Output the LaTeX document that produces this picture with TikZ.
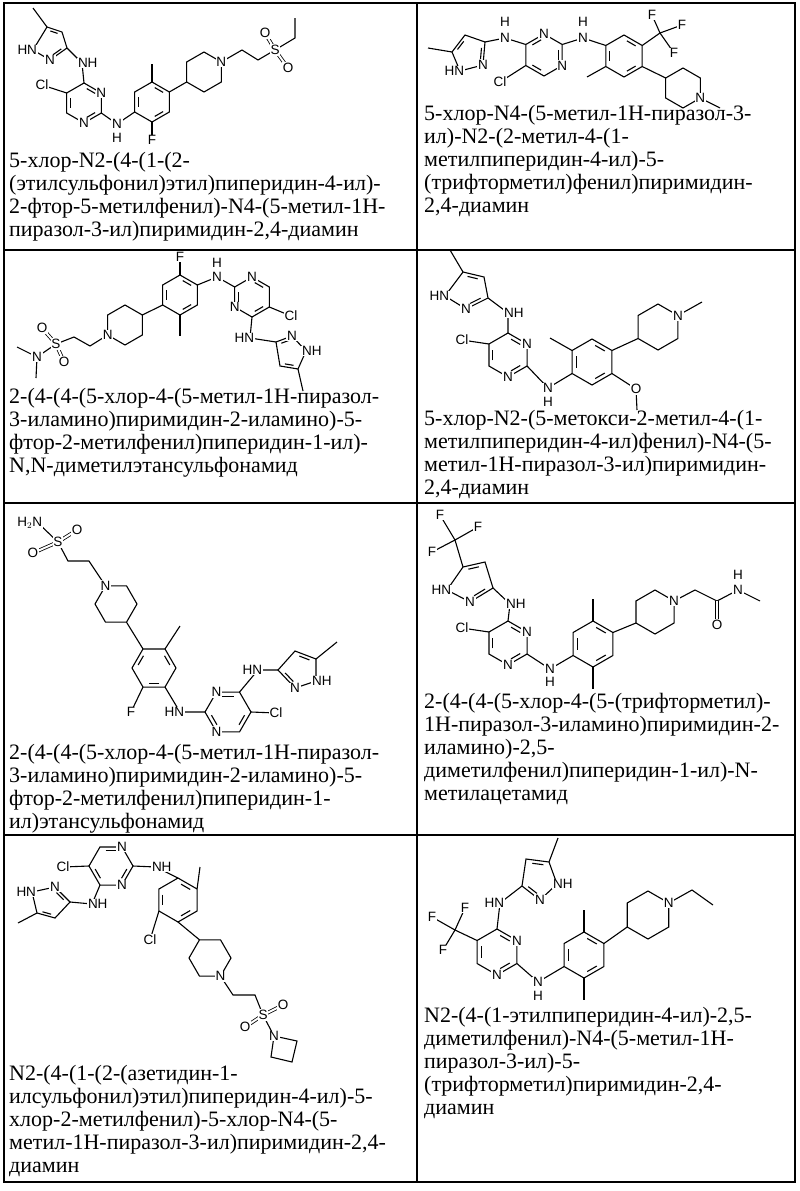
\documentclass[tikz,border=0pt]{standalone}
\usepackage{fontspec}
\setmainfont{Liberation Serif}
\newfontfamily\atomfont{Liberation Sans}
\usetikzlibrary{calc}

\tikzset{
  bond/.style={line width=1.1pt},
  dbl/.style={double,double distance=2pt,line width=0.8pt},
  atom/.style={font=\atomfont\fontsize{13.5}{13.5}\selectfont,fill=white,inner sep=0.8pt},
  nh/.style={atom,anchor=west,xshift=-5pt},
  hn/.style={atom,anchor=east,xshift=5pt},
  caption/.style={font=\fontsize{22}{23}\selectfont,align=left,anchor=north west,inner sep=0pt},
  grid line/.style={line width=1.2pt}
}
% ring of six: name, cx, cy, radius, start angle
\newcommand\hexring[5]{%
  \foreach \k in {1,...,6}{\coordinate (#1\k) at ($(#2,#3)+({#5+60*(\k-1)}:#4)$);}
  \coordinate (#1c) at (#2,#3);
  \draw[bond] (#11)--(#12)--(#13)--(#14)--(#15)--(#16)--cycle;}
% inner line of a double bond, pulled toward the ring centre
\newcommand\inner[3]{\draw[bond] ($(#1)!.2!(#2)!.2!(#3)$) -- ($(#2)!.2!(#1)!.2!(#3)$);}

\begin{document}
\begin{tikzpicture}[x=1pt,y=-1pt]
\useasboundingbox (0,0) rectangle (800,1191);

% table
\draw[grid line] (4,3) rectangle (795,1182);
\draw[grid line] (417,3) -- (417,1182);
\foreach \y in {250,503,835} \draw[grid line] (4,\y) -- (795,\y);

%%% cell 1
\coordinate (a1me) at (33,8);
\coordinate (a1c5) at (47,27); \coordinate (a1c4) at (62,32); \coordinate (a1c3) at (67,48);
\coordinate (a1n2) at (50,60); \coordinate (a1n1) at (33,50); \coordinate (a1z) at (52,43);
\draw[bond] (a1c5)--(a1c4)--(a1c3)--(a1n2)--(a1n1)--cycle; \draw[bond] (a1me)--(a1c5);
\inner{a1c5}{a1c4}{a1z} \inner{a1c3}{a1n2}{a1z}
\hexring{a1p}{84}{103}{20}{-90}
\inner{a1p1}{a1p2}{a1pc} \inner{a1p3}{a1p4}{a1pc} \inner{a1p5}{a1p6}{a1pc}
\coordinate (a1nh) at (82,63); \draw[bond] (a1c3)--(a1nh)--(a1p1);
\coordinate (a1cl) at (42,85); \draw[bond] (a1p6)--(a1cl);
\hexring{a1b}{152}{102}{20}{-90}
\inner{a1b5}{a1b6}{a1bc} \inner{a1b1}{a1b2}{a1bc} \inner{a1b3}{a1b4}{a1bc}
\coordinate (a1n) at (117,124); \draw[bond] (a1p3)--(a1n)--(a1b5);
\coordinate (a1f) at (152,140); \draw[bond] (a1b4)--(a1f);
\coordinate (a1me2) at (152,64); \draw[bond] (a1b1)--(a1me2);
\hexring{a1q}{204}{72}{20}{-90}
\draw[bond] (a1b2)--(a1q5);
\coordinate (a1ch1) at (242,50); \coordinate (a1ch2) at (258,60); \coordinate (a1s) at (275,50);
\coordinate (a1o1) at (265,33); \coordinate (a1o2) at (288,68);
\coordinate (a1et1) at (295,38); \coordinate (a1et2) at (295,18);
\draw[bond] (a1q2)--(a1ch1)--(a1ch2)--(a1s)--(a1et1)--(a1et2);
\draw[dbl] (a1s)--(a1o1); \draw[dbl] (a1s)--(a1o2);
\node[hn] (a1l1) at (a1n1) {HN}; \node[atom] (a1l2) at (a1n2) {N};
\node[nh] (a1l3) at (a1nh) {NH}; \node[atom] (a1l4) at (a1p2) {N}; \node[atom] (a1l5) at (a1p4) {N};
\node[atom] (a1l6) at (a1cl) {Cl}; \node[atom] (a1l7) at (a1n) {N}; \node[atom] (a1l8) at (117,138) {H};
\node[atom] (a1l9) at (a1f) {F}; \node[atom] (a1l10) at (a1q2) {N}; \node[atom] (a1l11) at (a1s) {S};
\node[atom] (a1l12) at (a1o1) {O}; \node[atom] (a1l13) at (a1o2) {O};
\node[caption] (a1txt) at (9,152) {5-хлор-N2-(4-(1-(2-\\(этилсульфонил)этил)пиперидин-4-ил)-\\2-фтор-5-метилфенил)-N4-(5-метил-1H-\\пиразол-3-ил)пиримидин-2,4-диамин};

%%% cell 2
\coordinate (b2me) at (428,48);
\coordinate (b2c5) at (452,52); \coordinate (b2c4) at (465,35); \coordinate (b2c3) at (485,42);
\coordinate (b2n2) at (483,65); \coordinate (b2n1) at (460,71); \coordinate (b2z) at (469,53);
\draw[bond] (b2c5)--(b2c4)--(b2c3)--(b2n2)--(b2n1)--cycle; \draw[bond] (b2me)--(b2c5);
\inner{b2c5}{b2c4}{b2z} \inner{b2c3}{b2n2}{b2z}
\hexring{b2p}{544}{55}{21}{-90}
\inner{b2p6}{b2p1}{b2pc} \inner{b2p2}{b2p3}{b2pc} \inner{b2p5}{b2p4}{b2pc}
\coordinate (b2nh) at (505,38); \draw[bond] (b2c3)--(b2nh)--(b2p6);
\coordinate (b2cl) at (500,82); \draw[bond] (b2p5)--(b2cl);
\hexring{b2b}{624}{56}{21}{-90}
\inner{b2b6}{b2b5}{b2bc} \inner{b2b1}{b2b2}{b2bc} \inner{b2b3}{b2b4}{b2bc}
\coordinate (b2n) at (583,38); \draw[bond] (b2p2)--(b2n)--(b2b6);
\coordinate (b2me2) at (587,77); \draw[bond] (b2b5)--(b2me2);
\coordinate (b2cf) at (660,33); \draw[bond] (b2b2)--(b2cf);
\coordinate (b2f1) at (652,15); \coordinate (b2f2) at (682,25); \coordinate (b2f3) at (674,53);
\draw[bond] (b2cf)--(b2f1); \draw[bond] (b2cf)--(b2f2); \draw[bond] (b2cf)--(b2f3);
\hexring{b2q}{683}{88}{20}{-90}
\draw[bond] (b2b3)--(b2q6);
\coordinate (b2me3) at (720,108); \draw[bond] (b2q3)--(b2me3);
\node[hn] (b2l1) at (b2n1) {HN}; \node[atom] (b2l2) at (b2n2) {N};
\node[atom] (b2l3) at (b2nh) {N}; \node[atom] (b2l4) at (505,22) {H};
\node[atom] (b2l5) at (b2p1) {N}; \node[atom] (b2l6) at (b2p3) {N}; \node[atom] (b2l7) at (b2cl) {Cl};
\node[atom] (b2l8) at (b2n) {N}; \node[atom] (b2l9) at (583,22) {H};
\node[atom] (b2l10) at (b2f1) {F}; \node[atom] (b2l11) at (b2f2) {F}; \node[atom] (b2l12) at (b2f3) {F};
\node[atom] (b2l13) at (b2q3) {N};
\node[caption] (b2txt) at (424,105) {5-хлор-N4-(5-метил-1H-пиразол-3-\\ил)-N2-(2-метил-4-(1-\\метилпиперидин-4-ил)-5-\\(трифторметил)фенил)пиримидин-\\2,4-диамин};

%%% cell 3
\hexring{c3b}{180}{295}{20}{-90}
\inner{c3b6}{c3b5}{c3bc} \inner{c3b1}{c3b2}{c3bc} \inner{c3b3}{c3b4}{c3bc}
\coordinate (c3f) at (180,257); \draw[bond] (c3b1)--(c3f);
\coordinate (c3me) at (180,336); \draw[bond] (c3b4)--(c3me);
\hexring{c3p}{252}{297}{20}{-90}
\inner{c3p6}{c3p5}{c3pc} \inner{c3p1}{c3p2}{c3pc} \inner{c3p3}{c3p4}{c3pc}
\coordinate (c3n) at (217,277); \draw[bond] (c3b2)--(c3n)--(c3p6);
\coordinate (c3cl) at (291,316); \draw[bond] (c3p3)--(c3cl);
\coordinate (c3hn) at (250,338);
\coordinate (c3c3) at (276,342); \coordinate (c3n2) at (292,336); \coordinate (c3n1) at (306,351);
\coordinate (c3c5) at (298,369); \coordinate (c3c4) at (280,366); \coordinate (c3z) at (290,353);
\draw[bond] (c3c3)--(c3n2)--(c3n1)--(c3c5)--(c3c4)--cycle;
\inner{c3c3}{c3n2}{c3z} \inner{c3c5}{c3c4}{c3z}
\draw[bond] (c3p4)--(c3hn)--(c3c3);
\coordinate (c3me2) at (303,391); \draw[bond] (c3c5)--(c3me2);
\hexring{c3q}{125}{325}{20}{-90}
\draw[bond] (c3b5)--(c3q2);
\coordinate (c3ch1) at (90,346); \coordinate (c3ch2) at (74,337); \coordinate (c3s) at (56,344);
\coordinate (c3o1) at (42,328); \coordinate (c3o2) at (64,362); \coordinate (c3ns) at (37,357);
\coordinate (c3m1) at (17,347); \coordinate (c3m2) at (36,378);
\draw[bond] (c3q5)--(c3ch1)--(c3ch2)--(c3s)--(c3ns)--(c3m1); \draw[bond] (c3ns)--(c3m2);
\draw[dbl] (c3s)--(c3o1); \draw[dbl] (c3s)--(c3o2);
\node[atom] (c3l1) at (c3f) {F}; \node[atom] (c3l2) at (c3n) {N}; \node[atom] (c3l3) at (217,263) {H};
\node[atom] (c3l4) at (c3p1) {N}; \node[atom] (c3l5) at (c3p5) {N}; \node[atom] (c3l6) at (c3cl) {Cl};
\node[hn] (c3l7) at (c3hn) {HN}; \node[atom] (c3l8) at (c3n2) {N}; \node[nh] (c3l9) at (c3n1) {NH};
\node[atom] (c3l10) at (c3q5) {N}; \node[atom] (c3l11) at (c3s) {S};
\node[atom] (c3l12) at (c3o1) {O}; \node[atom] (c3l13) at (c3o2) {O}; \node[atom] (c3l14) at (c3ns) {N};
\node[caption] (c3txt) at (9,388) {2-(4-(4-(5-хлор-4-(5-метил-1H-пиразол-\\3-иламино)пиримидин-2-иламино)-5-\\фтор-2-метилфенил)пиперидин-1-ил)-\\N,N-диметилэтансульфонамид};

%%% cell 4
\coordinate (d4me) at (450,250);
\coordinate (d4c5) at (463,272); \coordinate (d4c4) at (484,277); \coordinate (d4c3) at (488,298);
\coordinate (d4n2) at (466,309); \coordinate (d4n1) at (445,296); \coordinate (d4z) at (469,290);
\draw[bond] (d4c5)--(d4c4)--(d4c3)--(d4n2)--(d4n1)--cycle; \draw[bond] (d4me)--(d4c5);
\inner{d4c5}{d4c4}{d4z} \inner{d4c3}{d4n2}{d4z}
\hexring{d4p}{508}{355}{22}{-90}
\inner{d4p1}{d4p2}{d4pc} \inner{d4p3}{d4p4}{d4pc} \inner{d4p5}{d4p6}{d4pc}
\coordinate (d4nh) at (508,313); \draw[bond] (d4c3)--(d4nh)--(d4p1);
\coordinate (d4cl) at (462,340); \draw[bond] (d4p6)--(d4cl);
\hexring{d4b}{592}{362}{23}{-90}
\inner{d4b6}{d4b5}{d4bc} \inner{d4b1}{d4b2}{d4bc} \inner{d4b3}{d4b4}{d4bc}
\coordinate (d4n) at (548,388); \draw[bond] (d4p3)--(d4n)--(d4b5);
\coordinate (d4me2) at (550,338); \draw[bond] (d4b6)--(d4me2);
\coordinate (d4o) at (636,389); \coordinate (d4me3) at (637,410);
\draw[bond] (d4b3)--(d4o)--(d4me3);
\hexring{d4q}{658}{327}{23}{-90}
\draw[bond] (d4b2)--(d4q5);
\coordinate (d4me4) at (702,302); \draw[bond] (d4q2)--(d4me4);
\node[hn] (d4l1) at (d4n1) {HN}; \node[atom] (d4l2) at (d4n2) {N}; \node[nh] (d4l3) at (d4nh) {NH};
\node[atom] (d4l4) at (d4p2) {N}; \node[atom] (d4l5) at (d4p4) {N}; \node[atom] (d4l6) at (d4cl) {Cl};
\node[atom] (d4l7) at (d4n) {N}; \node[atom] (d4l8) at (548,402) {H};
\node[atom] (d4l9) at (d4o) {O}; \node[atom] (d4l10) at (d4q2) {N};
\node[caption] (d4txt) at (424,410) {5-хлор-N2-(5-метокси-2-метил-4-(1-\\метилпиперидин-4-ил)фенил)-N4-(5-\\метил-1H-пиразол-3-ил)пиримидин-\\2,4-диамин};

%%% cell 5
\coordinate (e5nh2) at (38,523); \coordinate (e5s) at (58,542);
\coordinate (e5o1) at (77,530); \coordinate (e5o2) at (33,553);
\coordinate (e5ch1) at (68,561); \coordinate (e5ch2) at (89,561);
\hexring{e5q}{116}{604}{21}{0}
\draw[bond] (e5nh2)--(e5s)--(e5ch1)--(e5ch2)--(e5q5);
\draw[dbl] (e5s)--(e5o1); \draw[dbl] (e5s)--(e5o2);
\hexring{e5b}{154}{668}{22}{0}
\inner{e5b4}{e5b5}{e5bc} \inner{e5b6}{e5b1}{e5bc} \inner{e5b2}{e5b3}{e5bc}
\draw[bond] (e5q2)--(e5b5);
\coordinate (e5me) at (180,626); \draw[bond] (e5b6)--(e5me);
\coordinate (e5f) at (131,712); \draw[bond] (e5b3)--(e5f);
\hexring{e5p}{228}{712}{23}{0}
\inner{e5p5}{e5p6}{e5pc} \inner{e5p1}{e5p2}{e5pc} \inner{e5p3}{e5p4}{e5pc}
\coordinate (e5hn) at (180,712); \draw[bond] (e5b2)--(e5hn)--(e5p4);
\coordinate (e5cl) at (276,713); \draw[bond] (e5p1)--(e5cl);
\coordinate (e5hn2) at (258,670);
\coordinate (e5c3) at (278,670); \coordinate (e5c4) at (295,651); \coordinate (e5c5) at (316,659);
\coordinate (e5n1) at (316,681); \coordinate (e5n2) at (295,688); \coordinate (e5z) at (300,670);
\draw[bond] (e5c3)--(e5c4)--(e5c5)--(e5n1)--(e5n2)--cycle;
\inner{e5c4}{e5c5}{e5z} \inner{e5n2}{e5c3}{e5z}
\draw[bond] (e5p6)--(e5hn2)--(e5c3);
\coordinate (e5me2) at (337,642); \draw[bond] (e5c5)--(e5me2);
\node[hn] (e5l1) at (e5nh2) {H$_2$N}; \node[atom] (e5l2) at (e5s) {S};
\node[atom] (e5l3) at (e5o1) {O}; \node[atom] (e5l4) at (e5o2) {O}; \node[atom] (e5l5) at (e5q5) {N};
\node[atom] (e5l6) at (e5f) {F}; \node[hn] (e5l7) at (e5hn) {HN};
\node[atom] (e5l8) at (e5p5) {N}; \node[atom] (e5l9) at (e5p3) {N}; \node[atom] (e5l10) at (e5cl) {Cl};
\node[hn] (e5l11) at (e5hn2) {HN}; \node[nh] (e5l12) at (e5n1) {NH}; \node[atom] (e5l13) at (e5n2) {N};
\node[caption] (e5txt) at (9,744) {2-(4-(4-(5-хлор-4-(5-метил-1H-пиразол-\\3-иламино)пиримидин-2-иламино)-5-\\фтор-2-метилфенил)пиперидин-1-\\ил)этансульфонамид};

%%% cell 6
\coordinate (f6cf) at (455,540);
\coordinate (f6f1) at (440,515); \coordinate (f6f2) at (478,527); \coordinate (f6f3) at (432,552);
\draw[bond] (f6cf)--(f6f1); \draw[bond] (f6cf)--(f6f2); \draw[bond] (f6cf)--(f6f3);
\coordinate (f6c5) at (463,567); \coordinate (f6c4) at (485,562); \coordinate (f6c3) at (493,588);
\coordinate (f6n2) at (470,602); \coordinate (f6n1) at (447,590); \coordinate (f6z) at (472,582);
\draw[bond] (f6c5)--(f6c4)--(f6c3)--(f6n2)--(f6n1)--cycle; \draw[bond] (f6cf)--(f6c5);
\inner{f6c5}{f6c4}{f6z} \inner{f6c3}{f6n2}{f6z}
\hexring{f6p}{508}{643}{22}{-90}
\inner{f6p1}{f6p2}{f6pc} \inner{f6p3}{f6p4}{f6pc} \inner{f6p5}{f6p6}{f6pc}
\coordinate (f6nh) at (510,604); \draw[bond] (f6c3)--(f6nh)--(f6p1);
\coordinate (f6cl) at (462,628); \draw[bond] (f6p6)--(f6cl);
\hexring{f6b}{593}{644}{23}{-90}
\inner{f6b6}{f6b5}{f6bc} \inner{f6b1}{f6b2}{f6bc} \inner{f6b3}{f6b4}{f6bc}
\coordinate (f6n) at (550,669); \draw[bond] (f6p3)--(f6n)--(f6b5);
\coordinate (f6me1) at (593,599); \draw[bond] (f6b1)--(f6me1);
\coordinate (f6me2) at (593,689); \draw[bond] (f6b4)--(f6me2);
\hexring{f6q}{655}{612}{22}{-90}
\draw[bond] (f6b2)--(f6q5);
\coordinate (f6ch) at (695,590); \coordinate (f6co) at (717,601); \coordinate (f6o) at (717,625);
\coordinate (f6na) at (738,590); \coordinate (f6me3) at (760,601);
\draw[bond] (f6q2)--(f6ch)--(f6co)--(f6na)--(f6me3); \draw[dbl] (f6co)--(f6o);
\node[atom] (f6l1) at (f6f1) {F}; \node[atom] (f6l2) at (f6f2) {F}; \node[atom] (f6l3) at (f6f3) {F};
\node[hn] (f6l4) at (f6n1) {HN}; \node[atom] (f6l5) at (f6n2) {N}; \node[nh] (f6l6) at (f6nh) {NH};
\node[atom] (f6l7) at (f6p2) {N}; \node[atom] (f6l8) at (f6p4) {N}; \node[atom] (f6l9) at (f6cl) {Cl};
\node[atom] (f6l10) at (f6n) {N}; \node[atom] (f6l11) at (550,682) {H};
\node[atom] (f6l12) at (f6q2) {N}; \node[atom] (f6l13) at (f6o) {O};
\node[atom] (f6l14) at (f6na) {N}; \node[atom] (f6l15) at (738,575) {H};
\node[caption] (f6txt) at (424,693) {2-(4-(4-(5-хлор-4-(5-(трифторметил)-\\1H-пиразол-3-иламино)пиримидин-2-\\иламино)-2,5-\\диметилфенил)пиперидин-1-ил)-N-\\метилацетамид};

%%% cell 7
\hexring{g7p}{111}{866}{22}{0}
\inner{g7p5}{g7p6}{g7pc} \inner{g7p1}{g7p2}{g7pc} \inner{g7p3}{g7p4}{g7pc}
\coordinate (g7cl) at (63,867); \draw[bond] (g7p4)--(g7cl);
\coordinate (g7nh2) at (156,867); \coordinate (g7nh) at (92,904);
\coordinate (g7c3) at (70,902); \coordinate (g7n2) at (55,887); \coordinate (g7n1) at (32,892);
\coordinate (g7c5) at (37,913); \coordinate (g7c4) at (55,918); \coordinate (g7z) at (50,903);
\draw[bond] (g7c3)--(g7n2)--(g7n1)--(g7c5)--(g7c4)--cycle;
\inner{g7c3}{g7n2}{g7z} \inner{g7c5}{g7c4}{g7z}
\coordinate (g7me) at (18,923); \draw[bond] (g7c5)--(g7me);
\draw[bond] (g7p3)--(g7nh)--(g7c3);
\hexring{g7b}{178}{900}{22}{-90}
\inner{g7b6}{g7b5}{g7bc} \inner{g7b1}{g7b2}{g7bc} \inner{g7b3}{g7b4}{g7bc}
\draw[bond] (g7p1)--(g7nh2)--(g7b1);
\coordinate (g7me2) at (200,867); \draw[bond] (g7b2)--(g7me2);
\coordinate (g7cl2) at (150,940); \draw[bond] (g7b5)--(g7cl2);
\hexring{g7q}{210}{958}{21}{0}
\draw[bond] (g7b4)--(g7q5);
\coordinate (g7ch1) at (233,995); \coordinate (g7ch2) at (255,995); \coordinate (g7s) at (263,1015);
\coordinate (g7o1) at (283,1005); \coordinate (g7o2) at (245,1027); \coordinate (g7na) at (274,1036);
\coordinate (g7a1) at (297,1041); \coordinate (g7a2) at (292,1062); \coordinate (g7a3) at (271,1057);
\draw[bond] (g7q2)--(g7ch1)--(g7ch2)--(g7s)--(g7na)--(g7a1)--(g7a2)--(g7a3)--(g7na);
\draw[dbl] (g7s)--(g7o1); \draw[dbl] (g7s)--(g7o2);
\node[atom] (g7l1) at (g7p6) {N}; \node[atom] (g7l2) at (g7p2) {N}; \node[atom] (g7l3) at (g7cl) {Cl};
\node[nh] (g7l4) at (g7nh2) {NH}; \node[nh] (g7l5) at (g7nh) {NH};
\node[atom] (g7l6) at (g7n2) {N}; \node[hn] (g7l7) at (g7n1) {HN}; \node[atom] (g7l8) at (g7cl2) {Cl};
\node[atom] (g7l9) at (g7q2) {N}; \node[atom] (g7l10) at (g7s) {S};
\node[atom] (g7l11) at (g7o1) {O}; \node[atom] (g7l12) at (g7o2) {O}; \node[atom] (g7l13) at (g7na) {N};
\node[caption] (g7txt) at (9,1065) {N2-(4-(1-(2-(азетидин-1-\\илсульфонил)этил)пиперидин-4-ил)-5-\\хлор-2-метилфенил)-5-хлор-N4-(5-\\метил-1H-пиразол-3-ил)пиримидин-2,4-\\диамин};

%%% cell 8
\coordinate (h8me) at (558,838);
\coordinate (h8c5) at (549,862); \coordinate (h8c4) at (526,859); \coordinate (h8c3) at (522,886);
\coordinate (h8n2) at (540,900); \coordinate (h8n1) at (557,884); \coordinate (h8z) at (539,878);
\draw[bond] (h8c5)--(h8c4)--(h8c3)--(h8n2)--(h8n1)--cycle; \draw[bond] (h8me)--(h8c5);
\inner{h8c5}{h8c4}{h8z} \inner{h8c3}{h8n2}{h8z}
\hexring{h8p}{497}{952}{23}{-90}
\inner{h8p1}{h8p2}{h8pc} \inner{h8p3}{h8p4}{h8pc} \inner{h8p5}{h8p6}{h8pc}
\coordinate (h8hn) at (500,903); \draw[bond] (h8c3)--(h8hn)--(h8p1);
\coordinate (h8cf) at (455,930); \draw[bond] (h8p6)--(h8cf);
\coordinate (h8f1) at (465,908); \coordinate (h8f2) at (432,917); \coordinate (h8f3) at (443,950);
\draw[bond] (h8cf)--(h8f1); \draw[bond] (h8cf)--(h8f2); \draw[bond] (h8cf)--(h8f3);
\hexring{h8b}{584}{955}{23}{-90}
\inner{h8b6}{h8b5}{h8bc} \inner{h8b1}{h8b2}{h8bc} \inner{h8b3}{h8b4}{h8bc}
\coordinate (h8n) at (538,982); \draw[bond] (h8p3)--(h8n)--(h8b5);
\coordinate (h8me1) at (584,910); \draw[bond] (h8b1)--(h8me1);
\coordinate (h8me2) at (584,1000); \draw[bond] (h8b4)--(h8me2);
\hexring{h8q}{648}{915}{24}{-90}
\draw[bond] (h8b2)--(h8q5);
\coordinate (h8et1) at (692,890); \coordinate (h8et2) at (713,905);
\draw[bond] (h8q2)--(h8et1)--(h8et2);
\node[nh] (h8l1) at (h8n1) {NH}; \node[atom] (h8l2) at (h8n2) {N}; \node[hn] (h8l3) at (h8hn) {HN};
\node[atom] (h8l4) at (h8p2) {N}; \node[atom] (h8l5) at (h8p4) {N};
\node[atom] (h8l6) at (h8f1) {F}; \node[atom] (h8l7) at (h8f2) {F}; \node[atom] (h8l8) at (h8f3) {F};
\node[atom] (h8l9) at (h8n) {N}; \node[atom] (h8l10) at (538,996) {H}; \node[atom] (h8l11) at (h8q2) {N};
\node[caption] (h8txt) at (424,1007) {N2-(4-(1-этилпиперидин-4-ил)-2,5-\\диметилфенил)-N4-(5-метил-1H-\\пиразол-3-ил)-5-\\(трифторметил)пиримидин-2,4-\\диамин};
\end{tikzpicture}
\end{document}
